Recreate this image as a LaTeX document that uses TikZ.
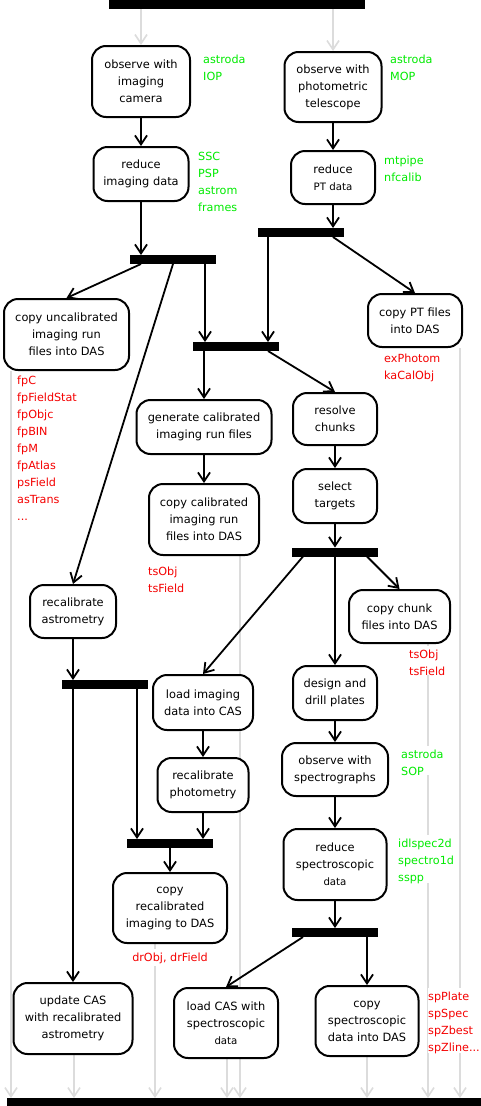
\documentclass[tikz,border=0pt]{standalone}
\usepackage{fontspec}
\setmainfont{DejaVu Sans}
\usetikzlibrary{arrows.meta,backgrounds}
\definecolor{toolgreen}{RGB}{0,235,0}
\definecolor{filered}{RGB}{245,0,0}
\definecolor{lanegray}{RGB}{220,220,220}
\newcommand{\smallline}{\fontsize{10.2}{17}\selectfont}

\begin{document}
\begin{tikzpicture}[x=1pt,y=-1pt,
		act/.style={draw, line width=2pt, rounded corners=14pt, fill=white, align=center,
			inner sep=2pt, font=\fontsize{11.4}{17}\selectfont},
		bar/.style={fill=black, inner sep=0pt, outer sep=0pt, minimum width=86pt, minimum height=9pt},
		flow/.style={draw, line width=1.8pt, -{Straight Barb[length=9pt,width=12pt]}},
		lane/.style={draw=lanegray, line width=1.6pt, -{Straight Barb[length=9pt,width=12pt]}},
		tool/.style={text=toolgreen, anchor=north west, align=left, inner sep=0pt, fill=white,
			font=\fontsize{11.2}{17}\selectfont},
		product/.style={tool, text=filered}]
		
		\useasboundingbox (0,0) rectangle (480,1106);
		
		% forks and joins
		\node[bar, minimum width=256pt] (start) at (237,4.5) {};
		\node[bar, minimum width=474pt, minimum height=8pt] (finish) at (244,1102) {};
		\node[bar] (forkpt) at (301,232.5) {};
		\node[bar] (forkimg) at (173,259.5) {};
		\node[bar] (joincal) at (236,346.5) {};
		\node[bar] (forktarget) at (335,552) {};
		\node[bar] (forkast) at (105,684.5) {};
		\node[bar] (joinphot) at (170,843.5) {};
		\node[bar] (forkspec) at (335,932.5) {};
		
		% activities
		\node[act, minimum width=98pt, minimum height=71pt] (obsimg) at (141,81.5) {observe with\\imaging\\camera};
		\node[act, minimum width=97pt, minimum height=70pt] (obsphot) at (333,87) {observe with\\photometric\\telescope};
		\node[act, minimum width=95pt, minimum height=54pt] (redimg) at (141,174) {reduce\\imaging data};
		\node[act, minimum width=84pt, minimum height=53pt] (redpt) at (333,177.5) {reduce\\{\smallline PT data}};
		\node[act, minimum width=125pt, minimum height=71pt] (copyuncal) at (66.5,334.5) {copy uncalibrated\\imaging run\\files into DAS};
		\node[act, minimum width=94pt, minimum height=53pt] (copypt) at (415,320.5) {copy PT files\\into DAS};
		\node[act, minimum width=135pt, minimum height=54pt] (gencal) at (204,427) {generate calibrated\\imaging run files};
		\node[act, minimum width=84pt, minimum height=52pt] (resolve) at (335,419) {resolve\\chunks};
		\node[act, minimum width=110pt, minimum height=71pt] (copycal) at (204,519.5) {copy calibrated\\imaging run\\files into DAS};
		\node[act, minimum width=84pt, minimum height=54pt] (select) at (335,496) {select\\targets};
		\node[act, minimum width=101pt, minimum height=53pt] (copychunk) at (399.5,616.5) {copy chunk\\files into DAS};
		\node[act, minimum width=84pt, minimum height=54pt] (design) at (335,693) {design and\\drill plates};
		\node[act, minimum width=100pt, minimum height=55pt] (loadimg) at (203,702.5) {load imaging\\data into CAS};
		\node[act, minimum width=86pt, minimum height=53pt] (recalast) at (73,611.5) {recalibrate\\astrometry};
		\node[act, minimum width=91pt, minimum height=54pt] (recalphot) at (203,785) {recalibrate\\photometry};
		\node[act, minimum width=114pt, minimum height=70pt] (copyrecal) at (170,908) {copy\\recalibrated\\imaging to DAS};
		\node[act, minimum width=106pt, minimum height=53pt] (obsspec) at (335,769.5) {observe with\\spectrographs};
		\node[act, minimum width=103pt, minimum height=71pt] (redspec) at (335,864.5) {reduce\\spectroscopic\\{\smallline data}};
		\node[act, minimum width=104pt, minimum height=70pt] (loadspec) at (226,1023) {load CAS with\\spectroscopic\\{\smallline data}};
		\node[act, minimum width=103pt, minimum height=70pt] (copyspec) at (367,1021) {copy\\spectroscopic\\data into DAS};
		\node[act, minimum width=119pt, minimum height=71pt] (updcas) at (73,1018.5) {update CAS\\with recalibrated\\astrometry};
		
		% programs and files
		\node[tool] (ioplist) at (203,51) {\strut astroda\\IOP};
		\node[tool] (moplist) at (390,51) {\strut astroda\\MOP};
		\node[tool] (ssclist) at (198,148) {\strut SSC\\PSP\\astrom\\frames};
		\node[tool] (mtlist) at (384,152) {\strut mtpipe\\nfcalib};
		\node[product] (ptfiles) at (384,350) {\strut exPhotom\\kaCalObj};
		\node[product] (uncalfiles) at (17,372) {\strut fpC\\fpFieldStat\\fpObjc\\fpBIN\\fpM\\fpAtlas\\psField\\asTrans\\...};
		\node[product] (calfiles) at (148,563) {\strut tsObj\\tsField};
		\node[product] (chunkfiles) at (409,646) {\strut tsObj\\tsField};
		\node[tool] (soplist) at (401,746) {\strut astroda\\SOP};
		\node[tool] (speclist) at (398,835) {\strut idlspec2d\\spectro1d\\sspp};
		\node[product, anchor=north] (recalfiles) at (170,949) {\strut drObj, drField};
		\node[product] (specfiles) at (428,988) {\strut spPlate\\spSpec\\spZbest\\spZline...};
		
		% imaging branch
		\draw[flow] (obsimg) -- (redimg);
		\draw[flow] (redimg) -- (redimg |- forkimg.north);
		\draw[flow] ([xshift=-32pt]forkimg.south) -- (copyuncal.north);
		\draw[flow] (forkimg.south) -- (recalast.north);
		\draw[flow] ([xshift=32pt]forkimg.south) -- ([xshift=-31pt]joincal.north);
		
		% photometric telescope branch
		\draw[flow] (obsphot) -- (redpt);
		\draw[flow] (redpt) -- (redpt |- forkpt.north);
		\draw[flow] ([xshift=-33pt]forkpt.south) -- ([xshift=32pt]joincal.north);
		\draw[flow] ([xshift=32pt]forkpt.south) -- (copypt.north);
		
		\draw[flow] ([xshift=-32pt]joincal.south) -- (gencal.north);
		\draw[flow] ([xshift=32pt]joincal.south) -- (resolve.north);
		\draw[flow] (gencal) -- (copycal);
		\draw[flow] (resolve) -- (select);
		\draw[flow] (select) -- (forktarget);
		\draw[flow] ([xshift=32pt]forktarget.south) -- (copychunk.north);
		\draw[flow] (forktarget) -- (design);
		\draw[flow] ([xshift=-32pt]forktarget.south) -- (loadimg.north);
		
		% recalibration
		\draw[flow] (recalast.south) -- ([xshift=-32pt]forkast.north);
		\draw[flow] ([xshift=-32pt]forkast.south) -- (updcas.north);
		\draw[flow] ([xshift=32pt]forkast.south) -- ([xshift=-33pt]joinphot.north);
		\draw[flow] (loadimg) -- (recalphot);
		\draw[flow] (recalphot.south) -- ([xshift=33pt]joinphot.north);
		\draw[flow] (joinphot) -- (copyrecal);
		
		% spectroscopy
		\draw[flow] (design) -- (obsspec);
		\draw[flow] (obsspec) -- (redspec);
		\draw[flow] (redspec) -- (forkspec);
		\draw[flow] ([xshift=-32pt]forkspec.south) -- (loadspec.north);
		\draw[flow] ([xshift=32pt]forkspec.south) -- (copyspec.north);
		
		\begin{scope}[on background layer]
			\draw[lane] (start.south -| obsimg) -- (obsimg.north);
			\draw[lane] (start.south -| obsphot) -- (obsphot.north);
			\foreach \src/\dx in {copyuncal/-55.5, updcas/1, copyrecal/-15, loadspec/1, copycal/36, copyspec/0, copychunk/28.5, copypt/45} {
				\coordinate (lanetop) at ([xshift=\dx pt]\src.south);
				\draw[lane] (lanetop) -- (lanetop |- finish.north);
			}
		\end{scope}
		
	\end{tikzpicture}
\end{document}
